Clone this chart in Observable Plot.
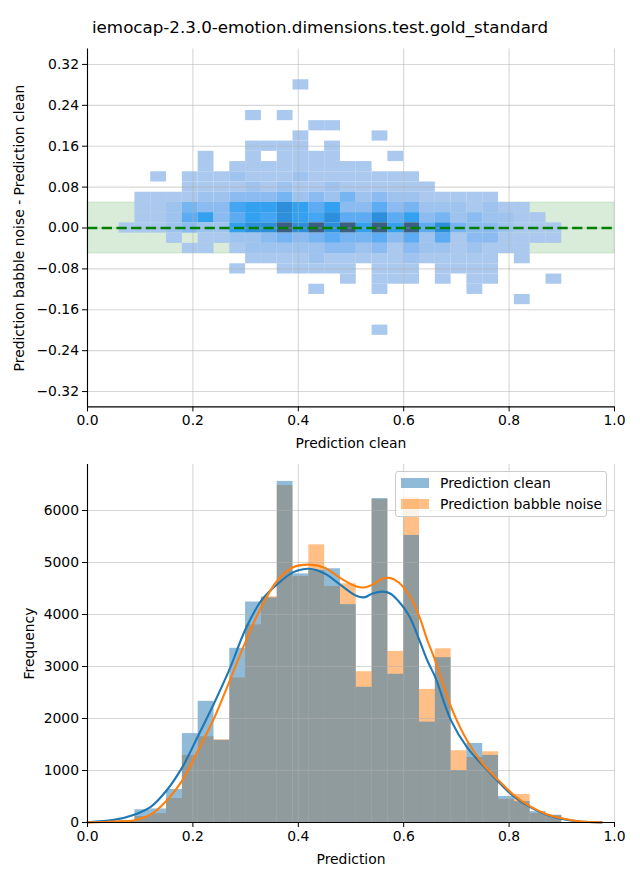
<!DOCTYPE html>
<html>
<head>
<meta charset="utf-8">
<script src="https://cdn.jsdelivr.net/npm/d3@7"></script>
<script src="https://cdn.jsdelivr.net/npm/@observablehq/plot@0.6"></script>
<style>
  body { margin: 0; background: #fff; font-family: "DejaVu Sans", sans-serif; }
  #wrap { position: relative; width: 640px; height: 880px; overflow: hidden; }
  #title { position: absolute; left: 0; top: 17px; width: 640px; text-align: center; font-size: 16.7px; line-height: 20px; color: #000; }
  #top { position: absolute; left: 0; top: 44px; }
  #bottom { position: absolute; left: 0; top: 454px; }
  #legend { position: absolute; left: 395px; top: 471px; width: 212px; height: 46px; box-sizing: border-box;
            background: rgba(255,255,255,0.8); border: 1px solid #cccccc; border-radius: 3px; font-size: 13.9px; color: #000; }
  .sw { position: absolute; left: 5px; width: 28px; height: 10px; }
  .lt { position: absolute; left: 44px; line-height: 16px; white-space: nowrap; }
</style>
</head>
<body>
<div id="wrap">
  <div id="title">iemocap-2.3.0-emotion.dimensions.test.gold_standard</div>
  <div id="top"></div>
  <div id="bottom"></div>
  <div id="legend">
    <div class="sw" style="top:6px;background:rgba(31,119,180,0.5)"></div>
    <div class="lt" style="top:3px">Prediction clean</div>
    <div class="sw" style="top:27px;background:rgba(255,127,14,0.5)"></div>
    <div class="lt" style="top:24px">Prediction babble noise</div>
  </div>
</div>
<script>
// ---------- data ----------
// histogram bins (left edges), shared by both panels
const binLeft = [0.06, 0.09, 0.12, 0.15, 0.18, 0.21, 0.24, 0.27, 0.30, 0.33,
                 0.36, 0.39, 0.42, 0.45, 0.48, 0.51, 0.54, 0.57, 0.60, 0.63,
                 0.66, 0.69, 0.72, 0.75, 0.78, 0.81, 0.84, 0.87];
const binWidth = 0.03;

// bottom panel: frequencies per bin
const histClean  = [40, 245, 260, 635, 1710, 2330, 1580, 3350, 4240, 4320,
                    6560, 4780, 4850, 4880, 4190, 2600, 6230, 2850, 5520, 1930,
                    3170, 1000, 1520, 1290, 500, 400, 210, 140];
const histBabble = [25, 115, 170, 460, 1290, 1650, 1590, 2780, 3800, 4340,
                    6480, 4730, 5340, 4540, 4590, 2900, 6210, 3290, 6250, 2560,
                    3340, 1380, 1250, 1360, 445, 540, 175, 130];

// KDE curves (scaled to counts)
const kdeX      = [0.00, 0.05, 0.09, 0.12, 0.15, 0.18, 0.21, 0.24, 0.27, 0.30, 0.33, 0.36, 0.39, 0.42, 0.45, 0.48,
                   0.51, 0.525, 0.54, 0.56, 0.575, 0.59, 0.61, 0.63, 0.645, 0.66, 0.69, 0.72, 0.75, 0.78, 0.81,
                   0.84, 0.87, 0.90, 0.935, 0.976];
const kdeClean  = [5, 50, 155, 300, 615, 1065, 1670, 2290, 2960, 3720, 4270, 4580, 4810, 4880, 4790, 4570,
                   4360, 4330, 4400, 4440, 4400, 4260, 3980, 3500, 3110, 2790, 1960, 1450, 1100, 780, 490,
                   295, 155, 70, 20, 3];
const kdeBabble = [2, 20, 45, 155, 420, 810, 1390, 2000, 2730, 3480, 4150, 4650, 4910, 4960, 4900, 4700,
                   4540, 4520, 4570, 4690, 4700, 4620, 4380, 3950, 3500, 3110, 2220, 1580, 1130, 810, 520,
                   310, 165, 80, 20, 3];

// top panel: 2D histogram, y-bin centres (difference) and intensity level per x-bin ('.' = empty)
const diffRowCenters = [0.28, 0.26, 0.24, 0.22, 0.20, 0.18, 0.16, 0.14, 0.12, 0.10, 0.08, 0.06, 0.04,
                        0.02, 0.00, -0.02, -0.04, -0.06, -0.08, -0.10, -0.12, -0.14, -0.16, -0.18, -0.20];
const diffBinHeight = 0.02;
const diffGrid = [
  "...........1................",
  "............................",
  "............................",
  "........1.1.................",
  "............11..............",
  "...........1....1...........",
  "........1111.1..............",
  ".....1..1.1111...1..........",
  ".....1.111111111............",
  "..1.111211121111111.........",
  "....1111212112111111........",
  ".11112233342324232211111....",
  ".1124336778757335342221211..",
  ".11257357687685585734232211.",
  "1112322788989897979584332111",
  "...1.11223434544535251331111",
  "....11.1222223323132212111..",
  "........1111211111211111.1..",
  ".......1..11111.111.1111....",
  "..............1.111.1.11...1",
  "............1...1.....1.....",
  ".........................1..",
  "............................",
  "............................",
  "................1..........."
];
const levels = ["1", "2", "3", "4", "5", "6", "7", "8", "9"];
const tolerance = 0.05;

const xTicks = [0, 0.2, 0.4, 0.6, 0.8, 1.0];
const diffTicks = [-0.32, -0.24, -0.16, -0.08, 0, 0.08, 0.16, 0.24, 0.32];
const freqTicks = [0, 1000, 2000, 3000, 4000, 5000, 6000];
const xDomain = [0, 1];
const diffDomain = [-0.35, 0.35];
const freqDomain = [0, 6885];

// ---------- styles ----------
const levelColors = ["#abc8ee", "#9fc3ef", "#8bbbf1", "#76b4f2", "#5dabf3", "#44a5f3", "#33a0f0", "#2d8fdc", "#3c5d84"];
const gridStyle = {stroke: "#b0b0b0", strokeOpacity: 0.5, strokeWidth: 1.1};
const font = {fontFamily: "DejaVu Sans", fontSize: "13.9px", color: "#000", background: "transparent", overflow: "visible"};

// ---------- tables ----------
const cells = [];
diffGrid.forEach((row, i) => {
  for (let j = 0; j < row.length; j++) {
    const ch = row[j];
    if (ch === ".") continue;
    cells.push({
      x1: binLeft[j], x2: binLeft[j] + binWidth,
      y1: diffRowCenters[i] - diffBinHeight / 2, y2: diffRowCenters[i] + diffBinHeight / 2,
      level: ch
    });
  }
});
const band = [{lo: -tolerance, hi: tolerance}];
const histRows = binLeft.map((x, i) => ({x1: x, x2: x + binWidth, base: 0, clean: histClean[i], babble: histBabble[i]}));
const kdeRows = kdeX.map((x, i) => ({x, clean: kdeClean[i], babble: kdeBabble[i]}));

// ---------- top panel ----------
const topPlot = Plot.plot({
  width: 640, height: 410,
  marginLeft: 87, marginRight: 26, marginTop: 4.6, marginBottom: 47.6,
  style: font,
  x: {domain: xDomain},
  y: {domain: diffDomain},
  color: {type: "ordinal", domain: levels, range: levelColors},
  marks: [
    Plot.rect(band, {y1: "lo", y2: "hi", fill: "green", fillOpacity: 0.15, stroke: "green", strokeOpacity: 0.12}),
    Plot.rect(cells, {x1: "x1", x2: "x2", y1: "y1", y2: "y2", fill: "level"}),
    Plot.gridX(xTicks, gridStyle),
    Plot.gridY(diffTicks, gridStyle),
    Plot.ruleY([0], {stroke: "green", strokeWidth: 2.6, strokeDasharray: "10.3,4.4"}),
    Plot.ruleX([xDomain[0]], {stroke: "#000", strokeWidth: 1.1}),
    Plot.ruleY([diffDomain[0]], {stroke: "#000", strokeWidth: 1.1}),
    Plot.axisX(xTicks, {tickFormat: d3.format(".1f"), tickSize: 5, tickPadding: 3.5,
      label: "Prediction clean", labelAnchor: "center", labelArrow: "none", labelOffset: 41}),
    Plot.axisY(diffTicks, {tickFormat: d3.format(".2f"), tickSize: 5, tickPadding: 3.5,
      label: "Prediction babble noise - Prediction clean", labelAnchor: "center", labelArrow: "none", labelOffset: 73})
  ]
});
document.getElementById("top").appendChild(topPlot);

// ---------- bottom panel ----------
const bottomPlot = Plot.plot({
  width: 640, height: 426,
  marginLeft: 87, marginRight: 26, marginTop: 10, marginBottom: 58,
  style: font,
  x: {domain: xDomain},
  y: {domain: freqDomain},
  marks: [
    Plot.rect(histRows, {x1: "x1", x2: "x2", y1: "base", y2: "babble", fill: "#ff7f0e", fillOpacity: 0.5}),
    Plot.rect(histRows, {x1: "x1", x2: "x2", y1: "base", y2: "clean", fill: "#1f77b4", fillOpacity: 0.5}),
    Plot.gridX(xTicks, gridStyle),
    Plot.gridY(freqTicks, gridStyle),
    Plot.line(kdeRows, {x: "x", y: "clean", stroke: "#1f77b4", strokeWidth: 2.1, curve: "catmull-rom"}),
    Plot.line(kdeRows, {x: "x", y: "babble", stroke: "#ff7f0e", strokeWidth: 2.1, curve: "catmull-rom"}),
    Plot.ruleX([xDomain[0]], {stroke: "#000", strokeWidth: 1.1}),
    Plot.ruleY([freqDomain[0]], {stroke: "#000", strokeWidth: 1.1}),
    Plot.axisX(xTicks, {tickFormat: d3.format(".1f"), tickSize: 5, tickPadding: 3.5,
      label: "Prediction", labelAnchor: "center", labelArrow: "none", labelOffset: 41}),
    Plot.axisY(freqTicks, {tickFormat: d3.format("d"), tickSize: 5, tickPadding: 3.5,
      label: "Frequency", labelAnchor: "center", labelArrow: "none", labelOffset: 63})
  ]
});
document.getElementById("bottom").appendChild(bottomPlot);
</script>
</body>
</html>
